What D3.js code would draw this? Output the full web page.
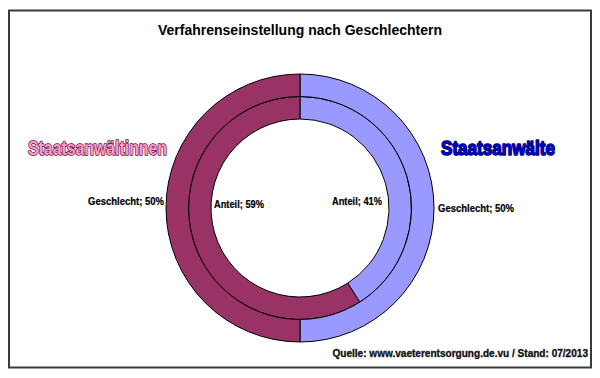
<!DOCTYPE html>
<html>
<head>
<meta charset="utf-8">
<script src="https://cdn.jsdelivr.net/npm/d3@7"></script>
<style>
  html, body { margin: 0; padding: 0; background: #fff; }
  svg { display: block; }
</style>
</head>
<body>
<svg id="chart" width="600" height="378"></svg>
<script>
const title = "Verfahrenseinstellung nach Geschlechtern";
const categories = ["Staatsanwälte", "Staatsanwältinnen"];
const seriesNames = ["Geschlecht", "Anteil"];
const geschlechtValues = [50, 50];
const anteilValues = [41, 59];
const colors = ["#9999ff", "#993366"];
const source = "Quelle: www.vaeterentsorgung.de.vu  / Stand: 07/2013";

const svg = d3.select("#chart");
const W = 600, H = 378;
svg.append("rect").attr("width", W).attr("height", H).attr("fill", "#fff");

// frame
svg.append("rect").attr("x", 9).attr("y", 10.5).attr("width", 582).attr("height", 357)
  .attr("fill", "none").attr("stroke", "#3a3a3a").attr("stroke-width", 2);

svg.append("text").attr("x", 300).attr("y", 35).attr("text-anchor", "middle")
  .attr("font-family", "Liberation Sans, Arial, sans-serif").attr("font-weight", "bold")
  .attr("font-size", 14).attr("fill", "#000").text(title);

const cx = 300, cy = 208;
const radius = d3.scaleLinear().domain([0, 1]).range([89, 134]);
const pie = d3.pie().sort(null).value(d => d);
const g = svg.append("g").attr("transform", `translate(${cx},${cy})`);

const rings = [
  { name: seriesNames[1], values: anteilValues, r0: radius(0), r1: radius(0.5) },
  { name: seriesNames[0], values: geschlechtValues, r0: radius(0.5), r1: radius(1) }
];
rings.forEach(ring => {
  const arc = d3.arc().innerRadius(ring.r0).outerRadius(ring.r1);
  g.selectAll(null).data(pie(ring.values)).enter().append("path")
    .attr("d", arc).attr("fill", (d, i) => colors[i])
    .attr("stroke", "#000").attr("stroke-width", 1);
});

const lblFont = "Liberation Sans, Arial, sans-serif";
function label(x, y, anchor, txt, len) {
  svg.append("text").attr("x", x).attr("y", y).attr("text-anchor", anchor)
    .attr("font-family", lblFont).attr("font-weight", "bold").attr("font-size", 10)
    .attr("textLength", len).attr("lengthAdjust", "spacingAndGlyphs")
    .attr("fill", "#000").attr("stroke", "#000").attr("stroke-width", 0.2).text(txt);
}
// outer ring labels
label(cx - radius(1) - 2, 205, "end", `${seriesNames[0]}; ${geschlechtValues[1]}%`, 76);
label(cx + radius(1) + 4, 212, "start", `${seriesNames[0]}; ${geschlechtValues[0]}%`, 76);
// inner ring labels
label(cx - radius(0) + 3, 208, "start", `${seriesNames[1]}; ${anteilValues[1]}%`, 50);
label(cx + radius(0) - 7, 205, "end", `${seriesNames[1]}; ${anteilValues[0]}%`, 50);

// big category titles
const bigFont = "Liberation Sans Narrow, Liberation Sans, Arial, sans-serif";
svg.append("text").attr("x", 28).attr("y", 155)
  .attr("font-family", bigFont).attr("font-weight", "bold").attr("font-size", 20)
  .attr("textLength", 139).attr("lengthAdjust", "spacingAndGlyphs")
  .attr("fill", "#ff99cc").attr("stroke", "#5a1535").attr("stroke-width", 1.6)
  .attr("stroke-linejoin", "round").attr("paint-order", "stroke")
  .text(categories[1]);
svg.append("text").attr("x", 441).attr("y", 155)
  .attr("font-family", bigFont).attr("font-weight", "bold").attr("font-size", 20)
  .attr("textLength", 114).attr("lengthAdjust", "spacingAndGlyphs")
  .attr("fill", "#0000cc").attr("stroke", "#000055").attr("stroke-width", 1.6)
  .attr("stroke-linejoin", "round").attr("paint-order", "stroke")
  .text(categories[0]);

// source
svg.append("g").attr("transform", "translate(588,357) scale(0.875,1)")
  .append("text").attr("x", 0).attr("y", 0).attr("text-anchor", "end")
  .attr("font-family", bigFont).attr("font-weight", "bold").attr("font-size", 11.5)
  .attr("fill", "#000").attr("stroke", "#333").attr("stroke-width", 0.4)
  .text(source);
</script>
</body>
</html>
